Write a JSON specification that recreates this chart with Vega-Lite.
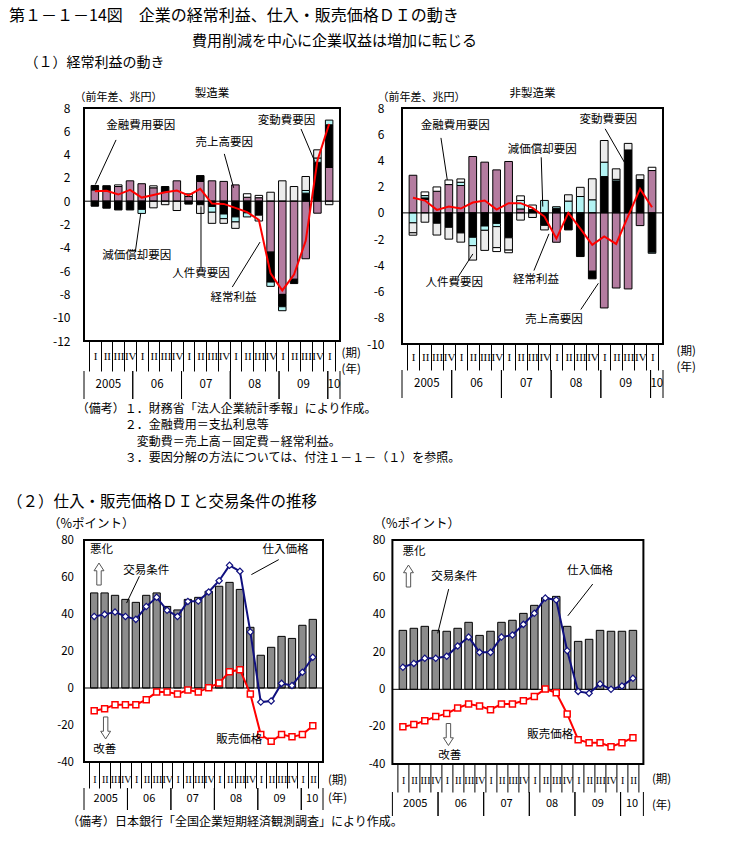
{
"$schema": "https://vega.github.io/schema/vega-lite/v6.json",
"background": "white",
"padding": {"left": 7, "top": 7, "right": 5, "bottom": 5},
"config": {
  "font": "Noto Sans CJK JP",
  "view": {"stroke": "black", "strokeWidth": 2},
  "axis": {"labelColor": "black", "titleColor": "black", "titleFontWeight": "normal", "tickColor": "black", "grid": false, "domain": false, "labelFlush": false, "labelOverlap": false, "labelBound": false, "labelFont": "Noto Sans CJK JP", "titleFont": "Noto Sans CJK JP"},
  "title": {"color": "black", "fontWeight": "normal", "subtitleColor": "black", "subtitleFontWeight": "normal", "font": "Noto Sans CJK JP", "subtitleFont": "Noto Sans CJK JP"}
},
"title": {"text": "第１－１－14図　企業の経常利益、仕入・販売価格ＤＩの動き", "anchor": "start", "frame": "bounds", "dx": 2, "offset": 10, "fontSize": 16},
"datasets": {
 "mfgBars": [
  {"q":1,"f":"売上高要因","v":0.97},{"q":1,"f":"変動費要因","v":0.38},{"q":1,"f":"変動費要因","v":-0.43},
  {"q":2,"f":"売上高要因","v":0.9},{"q":2,"f":"変動費要因","v":0.43},{"q":2,"f":"変動費要因","v":-0.6},
  {"q":3,"f":"売上高要因","v":1.26},{"q":3,"f":"金融費用要因","v":0.14},{"q":3,"f":"変動費要因","v":-0.75},
  {"q":4,"f":"売上高要因","v":1.75},{"q":4,"f":"変動費要因","v":-0.75},
  {"q":5,"f":"売上高要因","v":1.5},{"q":5,"f":"変動費要因","v":-0.7},{"q":5,"f":"減価償却要因","v":-0.35},
  {"q":6,"f":"売上高要因","v":1.15},{"q":6,"f":"金融費用要因","v":0.17},{"q":6,"f":"人件費要因","v":-0.57},
  {"q":7,"f":"売上高要因","v":0.86},{"q":7,"f":"変動費要因","v":0.4},{"q":7,"f":"人件費要因","v":-0.3},
  {"q":8,"f":"売上高要因","v":1.75},{"q":8,"f":"人件費要因","v":-0.8},
  {"q":9,"f":"売上高要因","v":0.4},{"q":9,"f":"金融費用要因","v":0.23},{"q":9,"f":"変動費要因","v":-0.25},
  {"q":10,"f":"売上高要因","v":1.7},{"q":10,"f":"変動費要因","v":0.5},{"q":10,"f":"変動費要因","v":-0.3},{"q":10,"f":"人件費要因","v":-0.75},
  {"q":11,"f":"売上高要因","v":1.75},{"q":11,"f":"変動費要因","v":-0.45},{"q":11,"f":"減価償却要因","v":-0.5},{"q":11,"f":"人件費要因","v":-0.95},
  {"q":12,"f":"売上高要因","v":1.7},{"q":12,"f":"変動費要因","v":-1.1},{"q":12,"f":"減価償却要因","v":-0.4},{"q":12,"f":"人件費要因","v":-0.4},
  {"q":13,"f":"売上高要因","v":1.4},{"q":13,"f":"変動費要因","v":-1.35},{"q":13,"f":"減価償却要因","v":-0.43},{"q":13,"f":"人件費要因","v":-0.55},
  {"q":14,"f":"売上高要因","v":0.34},{"q":14,"f":"金融費用要因","v":0.3},{"q":14,"f":"変動費要因","v":-1.0},{"q":14,"f":"減価償却要因","v":-0.35},
  {"q":15,"f":"売上高要因","v":0.3},{"q":15,"f":"金融費用要因","v":0.2},{"q":15,"f":"変動費要因","v":-1.2},{"q":15,"f":"人件費要因","v":-0.5},
  {"q":16,"f":"人件費要因","v":0.77},{"q":16,"f":"売上高要因","v":-4.37},{"q":16,"f":"変動費要因","v":-2.57},{"q":16,"f":"減価償却要因","v":-0.37},
  {"q":17,"f":"人件費要因","v":1.75},{"q":17,"f":"売上高要因","v":-8.0},{"q":17,"f":"変動費要因","v":-1.06},{"q":17,"f":"減価償却要因","v":-0.34},
  {"q":18,"f":"人件費要因","v":1.26},{"q":18,"f":"売上高要因","v":-6.7},{"q":18,"f":"変動費要因","v":-0.37},
  {"q":19,"f":"変動費要因","v":0.69},{"q":19,"f":"減価償却要因","v":0.23},{"q":19,"f":"人件費要因","v":1.2},{"q":19,"f":"売上高要因","v":-4.94},
  {"q":20,"f":"変動費要因","v":3.34},{"q":20,"f":"減価償却要因","v":0.37},{"q":20,"f":"人件費要因","v":0.7},{"q":20,"f":"売上高要因","v":-1.03},
  {"q":21,"f":"売上高要因","v":2.9},{"q":21,"f":"変動費要因","v":3.66},{"q":21,"f":"減価償却要因","v":0.4},{"q":21,"f":"人件費要因","v":-0.3}
 ],
 "mfgLine": [
  {"q":1,"yr":"2005","p":0.86},{"q":2,"yr":"2005","p":0.89},{"q":3,"yr":"2005","p":0.57},{"q":4,"yr":"2005","p":0.97},
  {"q":5,"yr":"06","p":0.31},{"q":6,"yr":"06","p":0.54},{"q":7,"yr":"06","p":0.77},{"q":8,"yr":"06","p":0.91},
  {"q":9,"yr":"07","p":0.49},{"q":10,"yr":"07","p":1.06},{"q":11,"yr":"07","p":-0.2},{"q":12,"yr":"07","p":-0.23},
  {"q":13,"yr":"08","p":-0.57},{"q":14,"yr":"08","p":-0.94},{"q":15,"yr":"08","p":-1.6},{"q":16,"yr":"08","p":-6.2},
  {"q":17,"yr":"09","p":-7.66},{"q":18,"yr":"09","p":-6.3},{"q":19,"yr":"09","p":-3.4},{"q":20,"yr":"09","p":3.49},
  {"q":21,"yr":"10","p":6.63}
 ],
 "mfgNotes": [
  {"t":"金融費用要因","q":1.97,"v":6.49},{"t":"売上高要因","q":9.6,"v":4.97},{"t":"変動費要因","q":14.9,"v":6.9},
  {"t":"減価償却要因","q":1.64,"v":-4.74},{"t":"人件費要因","q":7.6,"v":-6.22},{"t":"経常利益","q":10.88,"v":-8.28}
 ],
 "mfgArrows": [
  {"q":2.81,"v":5.26,"q2":1.04,"v2":1.43},{"q":12.05,"v":4.06,"q2":12.85,"v2":1.15},{"q":18.6,"v":6.2,"q2":19.8,"v2":3.34},
  {"q":4.45,"v":-4.37,"q2":4.92,"v2":-1.03},{"q":10.06,"v":-5.79,"q2":10.06,"v2":-0.45},{"q":12.73,"v":-7.37,"q2":15.1,"v2":-3.51}
 ],
 "nonBars": [
  {"q":1,"f":"売上高要因","v":2.87},{"q":1,"f":"減価償却要因","v":-0.76},{"q":1,"f":"人件費要因","v":-0.76},{"q":1,"f":"金融費用要因","v":-0.18},
  {"q":2,"f":"売上高要因","v":1.04},{"q":2,"f":"変動費要因","v":0.1},{"q":2,"f":"減価償却要因","v":0.18},{"q":2,"f":"金融費用要因","v":0.28},{"q":2,"f":"人件費要因","v":-0.71},
  {"q":3,"f":"売上高要因","v":1.65},{"q":3,"f":"金融費用要因","v":0.33},{"q":3,"f":"変動費要因","v":-0.79},{"q":3,"f":"人件費要因","v":-0.9},
  {"q":4,"f":"売上高要因","v":2.16},{"q":4,"f":"金融費用要因","v":0.35},{"q":4,"f":"変動費要因","v":-1.1},{"q":4,"f":"人件費要因","v":-0.9},
  {"q":5,"f":"売上高要因","v":2.09},{"q":5,"f":"減価償却要因","v":0.25},{"q":5,"f":"金融費用要因","v":0.25},{"q":5,"f":"変動費要因","v":-1.53},{"q":5,"f":"人件費要因","v":-0.7},
  {"q":6,"f":"売上高要因","v":4.3},{"q":6,"f":"変動費要因","v":-1.86},{"q":6,"f":"減価償却要因","v":-0.64},{"q":6,"f":"人件費要因","v":-1.1},
  {"q":7,"f":"売上高要因","v":3.87},{"q":7,"f":"変動費要因","v":-1.0},{"q":7,"f":"減価償却要因","v":-0.33},{"q":7,"f":"人件費要因","v":-1.53},
  {"q":8,"f":"売上高要因","v":3.28},{"q":8,"f":"変動費要因","v":-0.8},{"q":8,"f":"減価償却要因","v":-0.25},{"q":8,"f":"人件費要因","v":-1.6},{"q":8,"f":"金融費用要因","v":-0.3},
  {"q":9,"f":"売上高要因","v":3.92},{"q":9,"f":"変動費要因","v":-1.9},{"q":9,"f":"人件費要因","v":-0.94},{"q":9,"f":"金融費用要因","v":-0.2},
  {"q":10,"f":"売上高要因","v":0.3},{"q":10,"f":"減価償却要因","v":0.65},{"q":10,"f":"金融費用要因","v":0.35},{"q":10,"f":"人件費要因","v":-0.55},
  {"q":11,"f":"変動費要因","v":0.25},{"q":11,"f":"金融費用要因","v":0.35},{"q":11,"f":"人件費要因","v":-0.35},
  {"q":12,"f":"減価償却要因","v":0.95},{"q":12,"f":"変動費要因","v":-0.95},{"q":12,"f":"人件費要因","v":-0.35},
  {"q":13,"f":"変動費要因","v":0.35},{"q":13,"f":"減価償却要因","v":0.12},{"q":13,"f":"売上高要因","v":-2.24},
  {"q":14,"f":"減価償却要因","v":0.9},{"q":14,"f":"人件費要因","v":0.48},{"q":14,"f":"変動費要因","v":-1.3},
  {"q":15,"f":"減価償却要因","v":1.25},{"q":15,"f":"人件費要因","v":0.7},{"q":15,"f":"変動費要因","v":-3.33},
  {"q":16,"f":"減価償却要因","v":1.0},{"q":16,"f":"人件費要因","v":1.6},{"q":16,"f":"売上高要因","v":-4.45},{"q":16,"f":"変動費要因","v":-0.58},
  {"q":17,"f":"変動費要因","v":2.77},{"q":17,"f":"減価償却要因","v":1.1},{"q":17,"f":"人件費要因","v":1.65},{"q":17,"f":"売上高要因","v":-7.25},
  {"q":18,"f":"変動費要因","v":2.44},{"q":18,"f":"減価償却要因","v":0.12},{"q":18,"f":"人件費要因","v":0.8},{"q":18,"f":"売上高要因","v":-5.73},
  {"q":19,"f":"変動費要因","v":4.8},{"q":19,"f":"人件費要因","v":0.5},{"q":19,"f":"売上高要因","v":-5.8},
  {"q":20,"f":"変動費要因","v":2.54},{"q":20,"f":"人件費要因","v":0.36},{"q":20,"f":"売上高要因","v":-0.97},
  {"q":21,"f":"売上高要因","v":3.23},{"q":21,"f":"金融費用要因","v":0.25},{"q":21,"f":"変動費要因","v":-3.0},{"q":21,"f":"減価償却要因","v":-0.08}
 ],
 "nonLine": [
  {"q":1,"yr":"2005","p":1.15},{"q":2,"yr":"2005","p":0.94},{"q":3,"yr":"2005","p":0.23},{"q":4,"yr":"2005","p":0.48},
  {"q":5,"yr":"06","p":0.33},{"q":6,"yr":"06","p":0.79},{"q":7,"yr":"06","p":0.94},{"q":8,"yr":"06","p":0.25},
  {"q":9,"yr":"07","p":0.74},{"q":10,"yr":"07","p":0.74},{"q":11,"yr":"07","p":0.38},{"q":12,"yr":"07","p":-0.28},
  {"q":13,"yr":"08","p":-1.96},{"q":14,"yr":"08","p":0.0},{"q":15,"yr":"08","p":-1.2},{"q":16,"yr":"08","p":-2.44},
  {"q":17,"yr":"09","p":-1.8},{"q":18,"yr":"09","p":-2.37},{"q":19,"yr":"09","p":-0.25},{"q":20,"yr":"09","p":1.83},
  {"q":21,"yr":"10","p":0.43}
 ],
 "nonNotes": [
  {"t":"金融費用要因","q":1.65,"v":6.59},{"t":"減価償却要因","q":8.92,"v":4.81},{"t":"変動費要因","q":14.94,"v":7.1},
  {"t":"人件費要因","q":2.05,"v":-5.37},{"t":"経常利益","q":9.37,"v":-5.09},{"t":"売上高要因","q":10.4,"v":-8.15}
 ],
 "nonArrows": [
  {"q":3.34,"v":5.72,"q2":3.87,"v2":2.52},{"q":11.73,"v":4.24,"q2":11.86,"v2":0.48},{"q":17.08,"v":6.41,"q2":18.69,"v2":3.86},
  {"q":4.75,"v":-4.91,"q2":6.01,"v2":-3.13},{"q":11.12,"v":-4.4,"q2":12.38,"v2":-1.6},{"q":15.04,"v":-7.37,"q2":16.51,"v2":-5.37}
 ],
 "mfgDI": [
  {"q":1,"yr":"2005","tot":51.4,"buy":38.7,"sell":-12.3},{"q":2,"yr":"2005","tot":51.4,"buy":39.8,"sell":-11.2},
  {"q":3,"yr":"2005","tot":50.1,"buy":41.1,"sell":-9.0},{"q":4,"yr":"2005","tot":47.9,"buy":38.7,"sell":-9.0},
  {"q":5,"yr":"06","tot":46.3,"buy":37.1,"sell":-9.0},{"q":6,"yr":"06","tot":50.1,"buy":44.0,"sell":-6.3},
  {"q":7,"yr":"06","tot":51.4,"buy":49.0,"sell":-2.2},{"q":8,"yr":"06","tot":44.1,"buy":42.0,"sell":-2.2},
  {"q":9,"yr":"07","tot":42.2,"buy":38.7,"sell":-3.2},{"q":10,"yr":"07","tot":47.9,"buy":46.8,"sell":-1.1},
  {"q":11,"yr":"07","tot":49.0,"buy":47.0,"sell":-2.2},{"q":12,"yr":"07","tot":52.3,"buy":51.9,"sell":0.2},
  {"q":13,"yr":"08","tot":55.0,"buy":58.0,"sell":2.7},{"q":14,"yr":"08","tot":57.1,"buy":66.3,"sell":8.8},
  {"q":15,"yr":"08","tot":53.3,"buy":63.1,"sell":9.9},{"q":16,"yr":"08","tot":32.8,"buy":30.3,"sell":-3.2},
  {"q":17,"yr":"09","tot":17.7,"buy":-7.6,"sell":-25.2},{"q":18,"yr":"09","tot":22.0,"buy":-7.0,"sell":-28.8},
  {"q":19,"yr":"09","tot":27.9,"buy":2.5,"sell":-25.2},{"q":20,"yr":"09","tot":26.8,"buy":1.3,"sell":-26.3},
  {"q":21,"yr":"10","tot":33.9,"buy":8.5,"sell":-25.2},{"q":22,"yr":"10","tot":37.1,"buy":16.6,"sell":-20.4}
 ],
 "nonDI": [
  {"q":1,"yr":"2005","tot":31.6,"buy":11.8,"sell":-20.0},{"q":2,"yr":"2005","tot":32.7,"buy":13.9,"sell":-18.9},
  {"q":3,"yr":"2005","tot":33.75,"buy":16.6,"sell":-16.8},{"q":4,"yr":"2005","tot":31.6,"buy":16.6,"sell":-14.6},
  {"q":5,"yr":"06","tot":31.1,"buy":17.7,"sell":-13.0},{"q":6,"yr":"06","tot":32.7,"buy":23.2,"sell":-10.0},
  {"q":7,"yr":"06","tot":35.9,"buy":28.0,"sell":-7.9},{"q":8,"yr":"06","tot":28.9,"buy":19.8,"sell":-8.9},
  {"q":9,"yr":"07","tot":31.1,"buy":19.8,"sell":-10.9},{"q":10,"yr":"07","tot":35.9,"buy":28.0,"sell":-7.9},
  {"q":11,"yr":"07","tot":37.0,"buy":29.1,"sell":-7.9},{"q":12,"yr":"07","tot":40.7,"buy":34.8,"sell":-6.1},
  {"q":13,"yr":"08","tot":45.0,"buy":40.7,"sell":-3.9},{"q":14,"yr":"08","tot":49.1,"buy":48.9,"sell":0.2},
  {"q":15,"yr":"08","tot":49.8,"buy":47.9,"sell":-1.8},{"q":16,"yr":"08","tot":33.75,"buy":20.7,"sell":-13.2},
  {"q":17,"yr":"09","tot":25.7,"buy":-1.1,"sell":-27.0},{"q":18,"yr":"09","tot":26.8,"buy":-2.1,"sell":-28.6},
  {"q":19,"yr":"09","tot":31.6,"buy":2.9,"sell":-28.6},{"q":20,"yr":"09","tot":31.1,"buy":0.0,"sell":-30.7},
  {"q":21,"yr":"10","tot":31.1,"buy":1.8,"sell":-28.6},{"q":22,"yr":"10","tot":31.6,"buy":5.9,"sell":-25.9}
 ],
 "mfgDINotes": [
  {"t":"悪化","q":0.6,"v":74.6},{"t":"改善","q":0.91,"v":-33.5},{"t":"交易条件","q":3.8,"v":63.4},
  {"t":"仕入価格","q":17.16,"v":74.6},{"t":"販売価格","q":12.73,"v":-27.9}
 ],
 "mfgDIArrows": [
  {"q":5.34,"v":60.4,"q2":4.11,"v2":45.9},{"q":18.73,"v":69.4,"q2":16.1,"v2":61.3}
 ],
 "mfgDIHollow": [{"q":1.46,"v":61.6,"dir":"up"},{"q":2.1,"v":-21.6,"dir":"down"}],
 "nonDINotes": [
  {"t":"悪化","q":0.96,"v":73.6},{"t":"改善","q":4.23,"v":-35.6},{"t":"交易条件","q":3.59,"v":60},
  {"t":"仕入価格","q":15.98,"v":63.2},{"t":"販売価格","q":12.36,"v":-24.3}
 ],
 "nonDIArrows": [
  {"q":5.18,"v":53.7,"q2":4.18,"v2":30},{"q":18.33,"v":56.4,"q2":16.06,"v2":39.4}
 ],
 "nonDIHollow": [{"q":1.51,"v":60.7,"dir":"up"},{"q":5.16,"v":-24.2,"dir":"down"}]
},
"vconcat": [
 {
 "title": {"text": "費用削減を中心に企業収益は増加に転じる", "anchor": "start", "frame": "bounds", "dx": 185, "offset": 7, "fontSize": 15},
 "spacing": 30,
 "vconcat": [
 {
  "title": {"text": "（１）経常利益の動き", "anchor": "start", "frame": "bounds", "dx": -27, "offset": 17, "fontSize": 14},
  "vconcat": [
   {
    "title": {"text": ["（備考）１．財務省「法人企業統計季報」により作成。", "\u200b\u3000\u3000\u3000\u3000２．金融費用＝支払利息等", "\u200b\u3000\u3000\u3000\u3000\u3000変動費＝売上高－固定費－経常利益。", "\u200b\u3000\u3000\u3000\u3000３．要因分解の方法については、付注１－１－（１）を参照。"], "orient": "bottom", "anchor": "start", "frame": "bounds", "dx": 25.3, "offset": 4, "fontSize": 12, "lineHeight": 16.5},
    "spacing": 3,
    "hconcat": [
     {
      "bounds": "flush", "spacing": 30,
      "vconcat": [
       {
        "width": 256, "height": 233,
        "title": {"text": "製造業", "fontSize": 11.5, "frame": "group", "offset": -8},
        "layer": [
         {"data": {"name": "mfgBars"},
          "transform": [{"calculate": "indexof(['売上高要因','変動費要因','減価償却要因','人件費要因','金融費用要因'], datum.f)", "as": "k"}],
          "mark": {"type": "bar", "width": 7.5, "stroke": "black", "strokeWidth": 1},
          "encoding": {
           "x": {"field": "q", "type": "quantitative", "scale": {"domain": [0.5, 21.5], "nice": false, "zero": false},
                 "axis": {"values": [0.5,1.5,2.5,3.5,4.5,5.5,6.5,7.5,8.5,9.5,10.5,11.5,12.5,13.5,14.5,15.5,16.5,17.5,18.5,19.5,20.5,21.5], "tickCount": 100, "ticks": true, "tickSize": 30, "tickWidth": 1, "labelPadding": -15, "labelBaseline": "middle", "labelOffset": 6.1, "labelAngle": 0, "labelAlign": "center", "labelFont": "Liberation Serif", "labelFontSize": 11, "labelOverlap": false, "labelBound": false, "labelFlush": false, "labelExpr": "datum.value > 21 ? '' : ['I','II','III','IV'][(datum.value - 0.5) % 4]", "title": ["(期)", "(年)"], "titleX": 257, "titleY": 6, "titleAlign": "left", "titleBaseline": "top", "titleAngle": 0, "titleFontSize": 11.5, "titleLineHeight": 16}},
           "y": {"field": "v", "type": "quantitative", "stack": "zero", "scale": {"domain": [-12, 8], "nice": false, "zero": false},
                 "axis": {"values": [-12,-10,-8,-6,-4,-2,0,2,4,6,8], "tickCount": 100, "ticks": false, "labelPadding": 14, "labelFontSize": 12, "labelOverlap": false, "labelBound": false, "labelFlush": false, "labelExpr": "'' + datum.value", "title": "（前年差、兆円）", "titleAngle": 0, "titleAlign": "left", "titleBaseline": "middle", "titleX": -10, "titleY": -11, "titleFontSize": 11}},
           "color": {"field": "f", "type": "nominal", "scale": {"domain": ["売上高要因","変動費要因","減価償却要因","人件費要因","金融費用要因"], "range": ["#b47ca0","#000000","#b3f3f3","#ececec","#ffffff"]}, "legend": null},
           "order": {"field": "k", "type": "quantitative"}
          }},
         {"data": {"values": [{}]}, "mark": {"type": "rule", "color": "black", "strokeWidth": 1}, "encoding": {"y": {"datum": 0}}},
         {"data": {"name": "mfgLine"}, "mark": {"type": "line", "color": "#ff0000", "strokeWidth": 2},
          "encoding": {"x": {"field": "q", "type": "quantitative"}, "y": {"field": "p", "type": "quantitative"}}},
         {"data": {"name": "mfgArrows"}, "mark": {"type": "rule", "color": "black", "strokeWidth": 1},
          "encoding": {"x": {"field": "q", "type": "quantitative"}, "y": {"field": "v", "type": "quantitative"}, "x2": {"field": "q2"}, "y2": {"field": "v2"}}},
         {"data": {"name": "mfgNotes"}, "mark": {"type": "text", "align": "left", "baseline": "middle", "fontSize": 11.5, "color": "black"},
          "encoding": {"x": {"field": "q", "type": "quantitative"}, "y": {"field": "v", "type": "quantitative"}, "text": {"field": "t"}}}
        ]
       },
       {
        "width": 256, "height": 28, "view": {"stroke": null},
        "data": {"name": "mfgLine"},
        "layer": [
         {"transform": [{"aggregate": [{"op": "min", "field": "q", "as": "q0"}], "groupby": ["yr"]}, {"calculate": "datum.q0 - 0.5", "as": "b"}],
          "mark": {"type": "rule", "color": "black", "strokeWidth": 1},
          "encoding": {"x": {"field": "b", "type": "quantitative", "scale": {"domain": [0.5, 21.5], "nice": false, "zero": false}, "axis": null}}},
         {"transform": [{"aggregate": [{"op": "max", "field": "q", "as": "q1"}], "groupby": ["yr"]}, {"calculate": "datum.q1 + 0.5", "as": "b"}],
          "mark": {"type": "rule", "color": "black", "strokeWidth": 1},
          "encoding": {"x": {"field": "b", "type": "quantitative", "axis": null}}},
         {"transform": [{"aggregate": [{"op": "mean", "field": "q", "as": "qc"}], "groupby": ["yr"]}],
          "mark": {"type": "text", "fontSize": 11.5, "color": "black", "baseline": "middle"},
          "encoding": {"x": {"field": "qc", "type": "quantitative", "axis": null}, "text": {"field": "yr", "type": "nominal"}}}
        ]
       }
      ]
     },
     {
      "bounds": "flush", "spacing": 26,
      "vconcat": [
       {
        "width": 261, "height": 236,
        "title": {"text": "非製造業", "fontSize": 11.5, "frame": "group", "offset": -8},
        "layer": [
         {"data": {"name": "nonBars"},
          "transform": [{"calculate": "indexof(['売上高要因','変動費要因','減価償却要因','人件費要因','金融費用要因'], datum.f)", "as": "k"}],
          "mark": {"type": "bar", "width": 7.7, "stroke": "black", "strokeWidth": 1},
          "encoding": {
           "x": {"field": "q", "type": "quantitative", "scale": {"domain": [0.5, 21.5], "nice": false, "zero": false},
                 "axis": {"values": [0.5,1.5,2.5,3.5,4.5,5.5,6.5,7.5,8.5,9.5,10.5,11.5,12.5,13.5,14.5,15.5,16.5,17.5,18.5,19.5,20.5,21.5], "tickCount": 100, "ticks": true, "tickSize": 26, "tickWidth": 1, "labelPadding": -13, "labelBaseline": "middle", "labelOffset": 6.2, "labelAngle": 0, "labelAlign": "center", "labelFont": "Liberation Serif", "labelFontSize": 11, "labelOverlap": false, "labelBound": false, "labelFlush": false, "labelExpr": "datum.value > 21 ? '' : ['I','II','III','IV'][(datum.value - 0.5) % 4]", "title": ["(期)", "(年)"], "titleX": 274, "titleY": 1, "titleAlign": "left", "titleBaseline": "top", "titleAngle": 0, "titleFontSize": 11.5, "titleLineHeight": 16}},
           "y": {"field": "v", "type": "quantitative", "stack": "zero", "scale": {"domain": [-10, 8], "nice": false, "zero": false},
                 "axis": {"values": [-10,-8,-6,-4,-2,0,2,4,6,8], "tickCount": 100, "ticks": false, "labelPadding": 18, "labelFontSize": 12, "labelOverlap": false, "labelBound": false, "labelFlush": false, "labelExpr": "'' + datum.value", "title": "（前年差、兆円）", "titleAngle": 0, "titleAlign": "left", "titleBaseline": "middle", "titleX": -25, "titleY": -11, "titleFontSize": 11}},
           "color": {"field": "f", "type": "nominal", "scale": {"domain": ["売上高要因","変動費要因","減価償却要因","人件費要因","金融費用要因"], "range": ["#b47ca0","#000000","#b3f3f3","#ececec","#ffffff"]}, "legend": null},
           "order": {"field": "k", "type": "quantitative"}
          }},
         {"data": {"values": [{}]}, "mark": {"type": "rule", "color": "black", "strokeWidth": 1}, "encoding": {"y": {"datum": 0}}},
         {"data": {"name": "nonLine"}, "mark": {"type": "line", "color": "#ff0000", "strokeWidth": 2},
          "encoding": {"x": {"field": "q", "type": "quantitative"}, "y": {"field": "p", "type": "quantitative"}}},
         {"data": {"name": "nonArrows"}, "mark": {"type": "rule", "color": "black", "strokeWidth": 1},
          "encoding": {"x": {"field": "q", "type": "quantitative"}, "y": {"field": "v", "type": "quantitative"}, "x2": {"field": "q2"}, "y2": {"field": "v2"}}},
         {"data": {"name": "nonNotes"}, "mark": {"type": "text", "align": "left", "baseline": "middle", "fontSize": 11.5, "color": "black"},
          "encoding": {"x": {"field": "q", "type": "quantitative"}, "y": {"field": "v", "type": "quantitative"}, "text": {"field": "t"}}}
        ]
       },
       {
        "width": 261, "height": 28, "view": {"stroke": null},
        "data": {"name": "nonLine"},
        "layer": [
         {"transform": [{"aggregate": [{"op": "min", "field": "q", "as": "q0"}], "groupby": ["yr"]}, {"calculate": "datum.q0 - 0.5", "as": "b"}],
          "mark": {"type": "rule", "color": "black", "strokeWidth": 1},
          "encoding": {"x": {"field": "b", "type": "quantitative", "scale": {"domain": [0.5, 21.5], "nice": false, "zero": false}, "axis": null}}},
         {"transform": [{"aggregate": [{"op": "max", "field": "q", "as": "q1"}], "groupby": ["yr"]}, {"calculate": "datum.q1 + 0.5", "as": "b"}],
          "mark": {"type": "rule", "color": "black", "strokeWidth": 1},
          "encoding": {"x": {"field": "b", "type": "quantitative", "axis": null}}},
         {"transform": [{"aggregate": [{"op": "mean", "field": "q", "as": "qc"}], "groupby": ["yr"]}],
          "mark": {"type": "text", "fontSize": 11.5, "color": "black", "baseline": "middle"},
          "encoding": {"x": {"field": "qc", "type": "quantitative", "axis": null}, "text": {"field": "yr", "type": "nominal"}}}
        ]
       }
      ]
     }
    ]
   }
  ]
 },
 {
  "title": {"text": "（２）仕入・販売価格ＤＩと交易条件の推移", "anchor": "start", "frame": "bounds", "dx": -27, "offset": 6, "fontSize": 15.5},
  "vconcat": [
   {
    "title": {"text": "（備考）日本銀行「全国企業短期経済観測調査」により作成。", "orient": "bottom", "anchor": "start", "frame": "bounds", "dx": 33, "offset": 0, "fontSize": 12},
    "spacing": 18.4,
    "hconcat": [
     {
      "bounds": "flush", "spacing": 26,
      "vconcat": [
       {
        "width": 239, "height": 222,
        "data": {"name": "mfgDI"},
        "layer": [
         {"mark": {"type": "bar", "width": 7.3, "fill": "#8c8c8c", "stroke": "black", "strokeWidth": 1},
          "encoding": {
           "x": {"field": "q", "type": "quantitative", "scale": {"domain": [0.5, 22.5], "nice": false, "zero": false},
                 "axis": {"values": [0.5,1.5,2.5,3.5,4.5,5.5,6.5,7.5,8.5,9.5,10.5,11.5,12.5,13.5,14.5,15.5,16.5,17.5,18.5,19.5,20.5,21.5,22.5], "tickCount": 100, "ticks": true, "tickSize": 26, "tickWidth": 1, "labelPadding": -8.3, "labelBaseline": "middle", "labelOffset": 5.43, "labelAngle": 0, "labelAlign": "center", "labelFont": "Liberation Serif", "labelFontSize": 10, "labelOverlap": false, "labelBound": false, "labelFlush": false, "labelExpr": "datum.value > 22 ? '' : ['I','II','III','IV'][(datum.value - 0.5) % 4]", "title": ["(期)", "(年)"], "titleX": 243.4, "titleY": 12, "titleAlign": "left", "titleBaseline": "top", "titleAngle": 0, "titleFontSize": 11.5, "titleLineHeight": 18}},
           "y": {"field": "tot", "type": "quantitative", "scale": {"domain": [-40, 80], "nice": false, "zero": false},
                 "axis": {"values": [-40,-20,0,20,40,60,80], "tickCount": 100, "ticks": false, "labelPadding": 10.5, "labelFontSize": 11.5, "labelOverlap": false, "labelBound": false, "labelFlush": false, "labelExpr": "'' + datum.value", "title": "\u200b\u2002\u2002（%ポイント）", "titleAngle": 0, "titleAlign": "left", "titleBaseline": "middle", "titleX": -49, "titleY": -17, "titleFontSize": 12.5}}
          }},
         {"data": {"values": [{}]}, "mark": {"type": "rule", "color": "black", "strokeWidth": 1}, "encoding": {"y": {"datum": 0}}},
         {"mark": {"type": "line", "color": "#ff0000", "strokeWidth": 2},
          "encoding": {"x": {"field": "q", "type": "quantitative"}, "y": {"field": "sell", "type": "quantitative"}}},
         {"mark": {"type": "point", "shape": "square", "size": 36, "filled": true, "fill": "white", "stroke": "#ff0000", "strokeWidth": 1.5, "opacity": 1},
          "encoding": {"x": {"field": "q", "type": "quantitative"}, "y": {"field": "sell", "type": "quantitative"}}},
         {"mark": {"type": "line", "color": "#10107f", "strokeWidth": 2},
          "encoding": {"x": {"field": "q", "type": "quantitative"}, "y": {"field": "buy", "type": "quantitative"}}},
         {"mark": {"type": "point", "shape": "diamond", "size": 40, "filled": true, "fill": "white", "stroke": "#10107f", "strokeWidth": 1.2, "opacity": 1},
          "encoding": {"x": {"field": "q", "type": "quantitative"}, "y": {"field": "buy", "type": "quantitative"}}},
         {"data": {"name": "mfgDIArrows"}, "mark": {"type": "rule", "color": "black", "strokeWidth": 1},
          "encoding": {"x": {"field": "q", "type": "quantitative"}, "y": {"field": "v", "type": "quantitative"}, "x2": {"field": "q2"}, "y2": {"field": "v2"}}},
         {"data": {"name": "mfgDINotes"}, "mark": {"type": "text", "align": "left", "baseline": "middle", "fontSize": 11.5, "color": "black"},
          "encoding": {"x": {"field": "q", "type": "quantitative"}, "y": {"field": "v", "type": "quantitative"}, "text": {"field": "t"}}},
         {"data": {"name": "mfgDIHollow"}, "mark": {"type": "point", "size": 484, "filled": true, "fill": "white", "stroke": "#555555", "strokeWidth": 1, "opacity": 1},
          "encoding": {"x": {"field": "q", "type": "quantitative"}, "y": {"field": "v", "type": "quantitative"},
            "shape": {"field": "dir", "type": "nominal", "scale": {"domain": ["up", "down"], "range": ["M-0.2,1V-0.3H-0.45L0,-1L0.45,-0.3H0.2V1Z", "M-0.2,-1V0.3H-0.45L0,1L0.45,0.3H0.2V-1Z"]}, "legend": null}}}
        ]
       },
       {
        "width": 239, "height": 22, "view": {"stroke": null},
        "data": {"name": "mfgDI"},
        "layer": [
         {"transform": [{"aggregate": [{"op": "min", "field": "q", "as": "q0"}], "groupby": ["yr"]}, {"calculate": "datum.q0 - 0.5", "as": "b"}],
          "mark": {"type": "rule", "color": "black", "strokeWidth": 1},
          "encoding": {"x": {"field": "b", "type": "quantitative", "scale": {"domain": [0.5, 22.5], "nice": false, "zero": false}, "axis": null}}},
         {"transform": [{"aggregate": [{"op": "max", "field": "q", "as": "q1"}], "groupby": ["yr"]}, {"calculate": "datum.q1 + 0.5", "as": "b"}],
          "mark": {"type": "rule", "color": "black", "strokeWidth": 1},
          "encoding": {"x": {"field": "b", "type": "quantitative", "axis": null}}},
         {"transform": [{"aggregate": [{"op": "mean", "field": "q", "as": "qc"}], "groupby": ["yr"]}],
          "mark": {"type": "text", "fontSize": 11, "color": "black", "baseline": "middle"},
          "encoding": {"x": {"field": "qc", "type": "quantitative", "axis": null}, "text": {"field": "yr", "type": "nominal"}}}
        ]
       }
      ]
     },
     {
      "bounds": "flush", "spacing": 28,
      "vconcat": [
       {
        "width": 251, "height": 224,
        "data": {"name": "nonDI"},
        "layer": [
         {"mark": {"type": "bar", "width": 7.5, "fill": "#8c8c8c", "stroke": "black", "strokeWidth": 1},
          "encoding": {
           "x": {"field": "q", "type": "quantitative", "scale": {"domain": [0.5, 22.5], "nice": false, "zero": false},
                 "axis": {"values": [0.5,1.5,2.5,3.5,4.5,5.5,6.5,7.5,8.5,9.5,10.5,11.5,12.5,13.5,14.5,15.5,16.5,17.5,18.5,19.5,20.5,21.5,22.5], "tickCount": 100, "ticks": true, "tickSize": 28, "tickWidth": 1, "labelPadding": -11.6, "labelBaseline": "middle", "labelOffset": 5.7, "labelAngle": 0, "labelAlign": "center", "labelFont": "Liberation Serif", "labelFontSize": 10, "labelOverlap": false, "labelBound": false, "labelFlush": false, "labelExpr": "datum.value > 22 ? '' : ['I','II','III','IV'][(datum.value - 0.5) % 4]", "title": ["(期)", "(年)"], "titleX": 259, "titleY": 9, "titleAlign": "left", "titleBaseline": "top", "titleAngle": 0, "titleFontSize": 11.5, "titleLineHeight": 26}},
           "y": {"field": "tot", "type": "quantitative", "scale": {"domain": [-40, 80], "nice": false, "zero": false},
                 "axis": {"values": [-40,-20,0,20,40,60,80], "tickCount": 100, "ticks": false, "labelPadding": 7.5, "labelFontSize": 11.5, "labelOverlap": false, "labelBound": false, "labelFlush": false, "labelExpr": "'' + datum.value", "title": "（%ポイント）", "titleAngle": 0, "titleAlign": "left", "titleBaseline": "middle", "titleX": -19.5, "titleY": -17, "titleFontSize": 12.5}}
          }},
         {"data": {"values": [{}]}, "mark": {"type": "rule", "color": "black", "strokeWidth": 1}, "encoding": {"y": {"datum": 0}}},
         {"mark": {"type": "line", "color": "#ff0000", "strokeWidth": 2},
          "encoding": {"x": {"field": "q", "type": "quantitative"}, "y": {"field": "sell", "type": "quantitative"}}},
         {"mark": {"type": "point", "shape": "square", "size": 36, "filled": true, "fill": "white", "stroke": "#ff0000", "strokeWidth": 1.5, "opacity": 1},
          "encoding": {"x": {"field": "q", "type": "quantitative"}, "y": {"field": "sell", "type": "quantitative"}}},
         {"mark": {"type": "line", "color": "#10107f", "strokeWidth": 2},
          "encoding": {"x": {"field": "q", "type": "quantitative"}, "y": {"field": "buy", "type": "quantitative"}}},
         {"mark": {"type": "point", "shape": "diamond", "size": 40, "filled": true, "fill": "white", "stroke": "#10107f", "strokeWidth": 1.2, "opacity": 1},
          "encoding": {"x": {"field": "q", "type": "quantitative"}, "y": {"field": "buy", "type": "quantitative"}}},
         {"data": {"name": "nonDIArrows"}, "mark": {"type": "rule", "color": "black", "strokeWidth": 1},
          "encoding": {"x": {"field": "q", "type": "quantitative"}, "y": {"field": "v", "type": "quantitative"}, "x2": {"field": "q2"}, "y2": {"field": "v2"}}},
         {"data": {"name": "nonDINotes"}, "mark": {"type": "text", "align": "left", "baseline": "middle", "fontSize": 11.5, "color": "black"},
          "encoding": {"x": {"field": "q", "type": "quantitative"}, "y": {"field": "v", "type": "quantitative"}, "text": {"field": "t"}}},
         {"data": {"name": "nonDIHollow"}, "mark": {"type": "point", "size": 484, "filled": true, "fill": "white", "stroke": "#555555", "strokeWidth": 1, "opacity": 1},
          "encoding": {"x": {"field": "q", "type": "quantitative"}, "y": {"field": "v", "type": "quantitative"},
            "shape": {"field": "dir", "type": "nominal", "scale": {"domain": ["up", "down"], "range": ["M-0.2,1V-0.3H-0.45L0,-1L0.45,-0.3H0.2V1Z", "M-0.2,-1V0.3H-0.45L0,1L0.45,0.3H0.2V-1Z"]}, "legend": null}}}
        ]
       },
       {
        "width": 251, "height": 24, "view": {"stroke": null},
        "data": {"name": "nonDI"},
        "layer": [
         {"transform": [{"aggregate": [{"op": "min", "field": "q", "as": "q0"}], "groupby": ["yr"]}, {"calculate": "datum.q0 - 0.5", "as": "b"}],
          "mark": {"type": "rule", "color": "black", "strokeWidth": 1},
          "encoding": {"x": {"field": "b", "type": "quantitative", "scale": {"domain": [0.5, 22.5], "nice": false, "zero": false}, "axis": null}}},
         {"transform": [{"aggregate": [{"op": "max", "field": "q", "as": "q1"}], "groupby": ["yr"]}, {"calculate": "datum.q1 + 0.5", "as": "b"}],
          "mark": {"type": "rule", "color": "black", "strokeWidth": 1},
          "encoding": {"x": {"field": "b", "type": "quantitative", "axis": null}}},
         {"transform": [{"aggregate": [{"op": "mean", "field": "q", "as": "qc"}], "groupby": ["yr"]}],
          "mark": {"type": "text", "fontSize": 11, "color": "black", "baseline": "middle"},
          "encoding": {"x": {"field": "qc", "type": "quantitative", "axis": null}, "text": {"field": "yr", "type": "nominal"}}}
        ]
       }
      ]
     }
    ]
   }
  ]
 }
 ]
 }
]
}
